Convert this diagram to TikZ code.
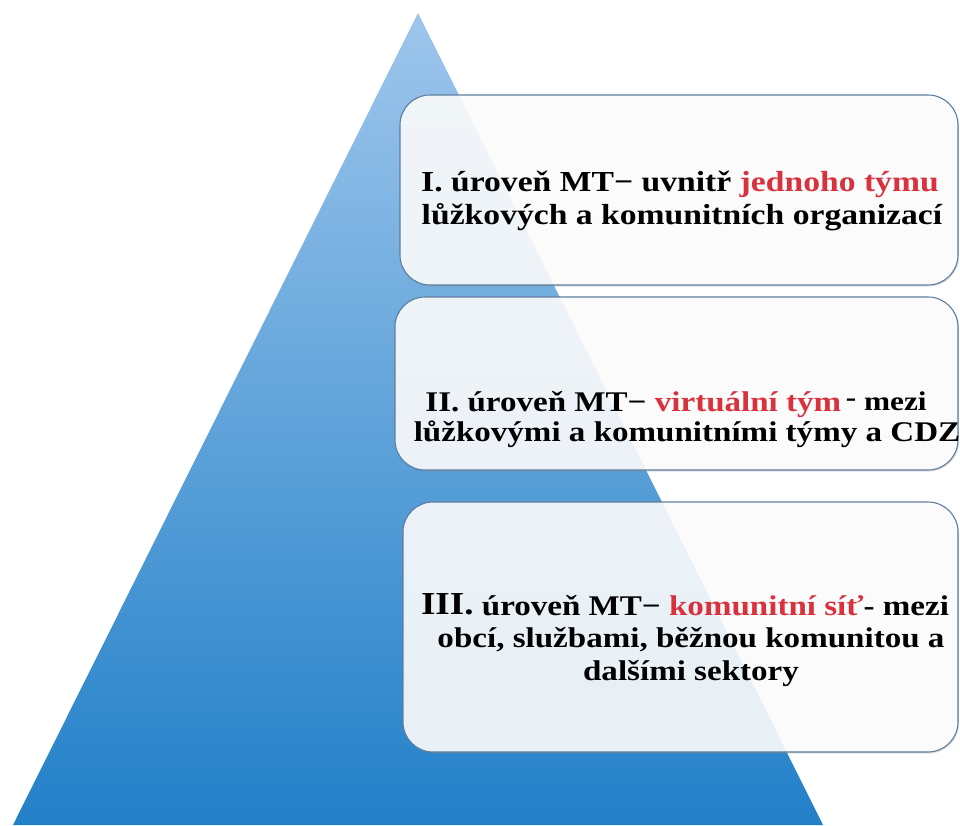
\documentclass[tikz,border=0pt]{standalone}
\usepackage{fontspec}
\setmainfont{Liberation Serif}
\newfontfamily\boxfont{Liberation Serif}[FakeStretch=1.16]
\usetikzlibrary{shadows}
\definecolor{tritop}{RGB}{158,198,236}
\definecolor{tribot}{RGB}{34,128,200}
\definecolor{boxline}{RGB}{95,125,155}
\definecolor{hired}{RGB}{215,50,62}
\tikzset{
  levelbox/.style={draw=boxline, line width=1.1pt, rounded corners=30pt,
    fill=white, fill opacity=0.88, draw opacity=1,
    drop shadow={opacity=0.25, shadow xshift=1pt, shadow yshift=-1.5pt}},
  lineA/.style={anchor=base, inner sep=0pt, text=black, font=\boxfont\bfseries\fontsize{29}{33}\selectfont},
  lineB/.style={anchor=base, inner sep=0pt, text=black, font=\boxfont\bfseries\fontsize{28.5}{33}\selectfont},
}
\newcommand{\hl}[1]{\textcolor{hired}{#1}}
\begin{document}
\begin{tikzpicture}[x=1pt,y=-1pt]
\useasboundingbox (0,0) rectangle (960,825);
\fill[fill=white] (0,0) rectangle (960,825);
% pyramid
\shade[top color=tritop, bottom color=tribot] (418,13) -- (823,825) -- (13,825) -- cycle;
% level boxes
\node[levelbox, minimum width=558pt, minimum height=190pt] (b1) at (679,190) {};
\node[levelbox, minimum width=563pt, minimum height=173pt] (b2) at (676.5,383.5) {};
\node[levelbox, minimum width=555pt, minimum height=250pt] (b3) at (680.5,627) {};
% level I
\node[lineA] (t1a) at (680,191) {I. úroveň MT− uvnitř \hl{jednoho týmu}};
\node[lineA] (t1b) at (682,224) {lůžkových a komunitních organizací};
% level II
\node[lineB] (t2a) at (676,411) {II. úroveň MT− \hl{virtuální tým}{\fontsize{27}{28}\selectfont\raisebox{5pt}{\,-} \raisebox{1pt}{mezi}}};
\node[lineB] (t2b) at (687,441) {lůžkovými a komunitními týmy a CDZ};
% level III
\node[lineB] (t3a) at (685,614) {{\fontsize{32}{36}\selectfont III.}\raisebox{-1.5pt}{ úroveň MT− \hl{komunitní síť}- mezi}};
\node[lineB] (t3b) at (691,647) {obcí, službami, běžnou komunitou a};
\node[lineB] (t3c) at (691,680) {dalšími sektory};
\end{tikzpicture}
\end{document}
